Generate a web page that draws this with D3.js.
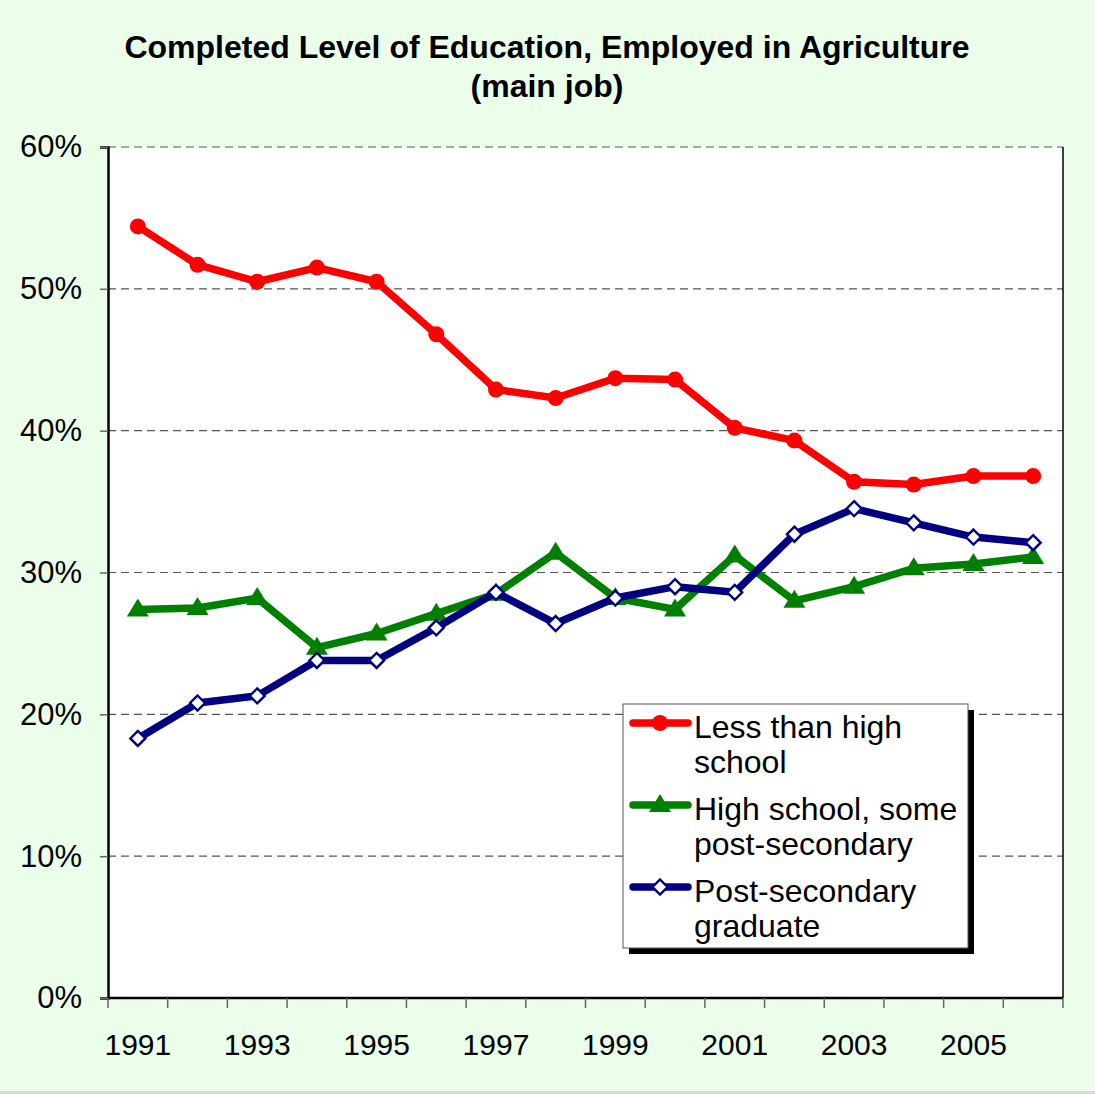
<!DOCTYPE html>
<html><head><meta charset="utf-8">
<script src="https://cdn.jsdelivr.net/npm/d3@7"></script>
<style>
html,body{margin:0;padding:0;background:#eafeea;}
svg{display:block;font-family:Arial,"Liberation Sans",sans-serif;}
</style></head>
<body>
<script>
const years = [1991,1992,1993,1994,1995,1996,1997,1998,1999,2000,2001,2002,2003,2004,2005,2006];
const lessThanHigh = [54.4,51.7,50.5,51.5,50.5,46.8,42.9,42.3,43.7,43.6,40.2,39.3,36.4,36.2,36.8,36.8];
const highSchool = [27.4,27.5,28.2,24.7,25.7,27.1,28.5,31.4,28.2,27.4,31.2,28.0,29.0,30.3,30.6,31.1];
const postSecondary = [18.3,20.8,21.3,23.8,23.8,26.1,28.6,26.4,28.2,29.0,28.6,32.7,34.5,33.5,32.5,32.1];
const yTicks = [0,10,20,30,40,50,60];
const xLabels = [1991,1993,1995,1997,1999,2001,2003,2005];
const titleLines = ["Completed Level of Education, Employed in Agriculture","(main job)"];
const seriesNames = [["Less than high","school"],["High school, some","post-secondary"],["Post-secondary","graduate"]];

const W=1095,H=1094;
const L=108,R=1063,T=147,B=998;
const svg=d3.select("body").append("svg").attr("width",W).attr("height",H);
svg.append("rect").attr("width",W).attr("height",H).attr("fill","#eafeea");
svg.append("rect").attr("x",0).attr("y",H-3).attr("width",W).attr("height",3).attr("fill","#d8d8d8");

const x=d3.scaleBand().domain(years).range([L,R]);
const y=d3.scaleLinear().domain([0,60]).range([B,T]);
const cx=d=>x(d)+x.bandwidth()/2;

svg.append("rect").attr("x",L).attr("y",T).attr("width",R-L).attr("height",B-T).attr("fill","#fff");

// gridlines
svg.append("g").selectAll("line").data(yTicks.filter(v=>v>0)).join("line")
 .attr("x1",L).attr("x2",R).attr("y1",d=>y(d)).attr("y2",d=>y(d))
 .attr("stroke","#555").attr("stroke-width",1.2).attr("stroke-dasharray","8,5");
// right border
svg.append("line").attr("x1",R).attr("x2",R).attr("y1",T).attr("y2",B).attr("stroke","#000").attr("stroke-width",1.5);

// y axis
const ya=svg.append("g").attr("transform",`translate(${L},0)`)
 .call(d3.axisLeft(y).tickValues(yTicks).tickFormat(d=>d+"%").tickSize(8).tickPadding(18));
ya.select(".domain").attr("stroke","#000").attr("stroke-width",2.5);
ya.selectAll(".tick line").attr("stroke","#666").attr("stroke-width",1.5);
ya.selectAll("text").attr("font-size",31).attr("fill","#000").attr("font-family","Arial,'Liberation Sans',sans-serif");

// x axis
const xa=svg.append("g").attr("transform",`translate(0,${B})`);
xa.append("line").attr("x1",L).attr("x2",R).attr("stroke","#000").attr("stroke-width",2.5);
const bounds=years.map(d=>x(d)).concat([R]);
xa.selectAll("line.tk").data(bounds).join("line").attr("class","tk")
 .attr("x1",d=>d).attr("x2",d=>d).attr("y1",0).attr("y2",10).attr("stroke","#666").attr("stroke-width",1.5);
xa.selectAll("text").data(xLabels).join("text")
 .attr("x",d=>cx(d)).attr("y",57).attr("text-anchor","middle").attr("font-size",30).attr("fill","#000").text(d=>d);

// title
svg.append("g").selectAll("text").data(titleLines).join("text")
 .attr("x",547).attr("y",(d,i)=>58+i*39).attr("text-anchor","middle")
 .attr("font-size",32).attr("font-weight","bold").text(d=>d);

const line=d3.line().x((d,i)=>cx(years[i])).y(d=>y(d));
const series=[
 {data:lessThanHigh,color:"#ff0000",marker:"circle"},
 {data:highSchool,color:"#008000",marker:"triangle"},
 {data:postSecondary,color:"#000080",marker:"diamond"}
];
function drawMarker(g,type,color,px,py){
 if(type==="circle") g.append("circle").attr("cx",px).attr("cy",py).attr("r",8).attr("fill",color);
 else if(type==="triangle") g.append("path").attr("d",`M${px},${py-11}L${px+11},${py+7}L${px-11},${py+7}Z`).attr("fill",color);
 else g.append("path").attr("d",`M${px},${py-7.5}L${px+7.5},${py}L${px},${py+7.5}L${px-7.5},${py}Z`).attr("fill","#fff").attr("stroke",color).attr("stroke-width",2.4);
}
series.forEach(s=>{
 svg.append("path").datum(s.data).attr("d",line).attr("fill","none").attr("stroke",s.color).attr("stroke-width",7.5).attr("stroke-linejoin","round");
 const g=svg.append("g");
 s.data.forEach((v,i)=>drawMarker(g,s.marker,s.color,cx(years[i]),y(v)));
});

// legend
const lg=svg.append("g");
lg.append("rect").attr("x",629).attr("y",710).attr("width",345).attr("height",244).attr("fill","#000");
lg.append("rect").attr("x",623).attr("y",704).attr("width",345).attr("height",244).attr("fill","#fff").attr("stroke","#555").attr("stroke-width",1);
const rowY=[727,809,891];
series.forEach((s,i)=>{
 lg.append("line").attr("x1",633).attr("x2",688).attr("y1",rowY[i]-4).attr("y2",rowY[i]-4).attr("stroke",s.color).attr("stroke-width",7.5).attr("stroke-linecap","round");
 drawMarker(lg,s.marker,s.color,660,rowY[i]-4);
 seriesNames[i].forEach((t,j)=>{
  lg.append("text").attr("x",694).attr("y",rowY[i]+11+j*35).attr("font-size",32).attr("fill","#000").text(t);
 });
});
</script>
</body></html>
